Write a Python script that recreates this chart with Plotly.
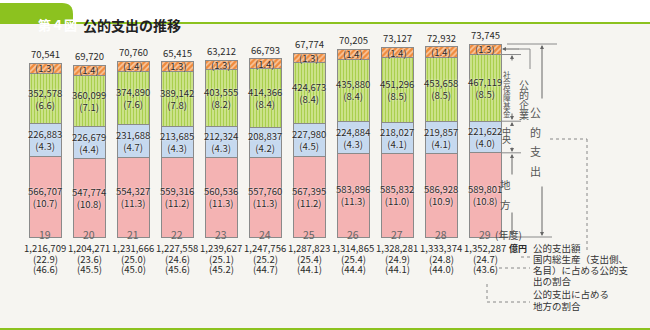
import plotly.graph_objects as go

# 年度
years = ["19", "20", "21", "22", "23", "24", "25", "26", "27", "28", "29"]

# 地方（億円）と公的支出に対する構成比（％）
local = [566707, 547774, 554327, 559316, 560536, 557760, 567395, 583896, 585832, 586928, 589801]
local_pct = [10.7, 10.8, 11.3, 11.2, 11.3, 11.3, 11.2, 11.3, 11.0, 10.9, 10.8]
# 中央
central = [226883, 226679, 231688, 213685, 212324, 208837, 227980, 224884, 218027, 219857, 221622]
central_pct = [4.3, 4.4, 4.7, 4.3, 4.3, 4.2, 4.5, 4.3, 4.1, 4.1, 4.0]
# 社会保障基金
ssf = [352578, 360099, 374890, 389142, 403555, 414366, 424673, 435880, 451296, 453658, 467119]
ssf_pct = [6.6, 7.1, 7.6, 7.8, 8.2, 8.4, 8.4, 8.4, 8.5, 8.5, 8.5]
# 公的企業
pe = [70541, 69720, 70760, 65415, 63212, 66793, 67774, 70205, 73127, 72932, 73745]
pe_pct = [1.3, 1.4, 1.4, 1.3, 1.3, 1.4, 1.3, 1.4, 1.4, 1.4, 1.3]
# 公的支出額・国内総生産に占める割合・公的支出に占める地方の割合
total = [1216709, 1204271, 1231666, 1227558, 1239627, 1247756, 1287823, 1314865, 1328281, 1333374, 1352287]
gdp_share = [22.9, 23.6, 25.0, 24.6, 25.1, 25.2, 25.4, 25.4, 24.9, 24.8, 24.7]
local_share = [46.6, 45.5, 45.0, 45.6, 45.2, 44.7, 44.1, 44.4, 44.1, 44.0, 43.6]

W, H = 650, 330
BASE = 237            # baseline of the bars (px from top)
UNIT = 7006.7         # 億円 per pixel
FONT = "Noto Sans CJK JP"
GRAY = "#8a8a8a"
TXT = "#2a2a2a"


def X(px):
    return px / W


def Y(py):
    return 1 - py / H


xs = list(range(len(years)))
bar_w = 32 / 44
line = dict(color=GRAY, width=1)

fig = go.Figure()
fig.add_bar(x=xs, y=local, name="地方", width=bar_w,
            marker=dict(color="#f4b3b3", line=line))
fig.add_bar(x=xs, y=central, name="中央", width=bar_w,
            marker=dict(color="#c6d9ef", line=line))
fig.add_bar(x=xs, y=ssf, name="社会保障基金", width=bar_w,
            marker=dict(color="#cde38a", line=line,
                        pattern=dict(shape="|", bgcolor="#d3e795", fgcolor="#a9cf4d",
                                     size=3, solidity=0.45, fillmode="replace")))
fig.add_bar(x=xs, y=pe, name="公的企業", width=bar_w,
            marker=dict(color="#ef8a3c", line=line,
                        pattern=dict(shape="/", bgcolor="#ef8a3c", fgcolor="#f9c8a0",
                                     size=4, solidity=0.4, fillmode="replace")))

ann = []
halo = "0px 0px 2px white"
LBL = 9.5


def seg_label(x, y, text, size=LBL):
    ann.append(dict(x=x, y=y, xref="x", yref="y", text=text, showarrow=False,
                    font=dict(family=FONT, size=size, color=TXT, shadow=halo)))


def fmt(v):
    return f"{v:,}"


for i in xs:
    b1 = local[i]
    b2 = b1 + central[i]
    b3 = b2 + ssf[i]
    b4 = b3 + pe[i]
    seg_label(i, b1 / 2, f"{fmt(local[i])}<br>({local_pct[i]:.1f})")
    seg_label(i, (b1 + b2) / 2, f"{fmt(central[i])}<br>({central_pct[i]:.1f})")
    seg_label(i, (b2 + b3) / 2, f"{fmt(ssf[i])}<br>({ssf_pct[i]:.1f})")
    seg_label(i, (b3 + b4) / 2, f"({pe_pct[i]:.1f})")
    ann.append(dict(x=i, y=b4, xref="x", yref="y", text=fmt(pe[i]), showarrow=False,
                    yanchor="bottom", yshift=0,
                    font=dict(family=FONT, size=LBL, color=TXT)))
    # bottom rows
    ann.append(dict(x=i, y=Y(244), xref="x", yref="paper", text=years[i], showarrow=False,
                    font=dict(family=FONT, size=10.5, color="#666")))
    ann.append(dict(x=i, y=Y(257), xref="x", yref="paper", text=fmt(total[i]), showarrow=False,
                    font=dict(family=FONT, size=9.5, color=TXT)))
    ann.append(dict(x=i, y=Y(268), xref="x", yref="paper", text=f"({gdp_share[i]:.1f})",
                    showarrow=False, font=dict(family=FONT, size=9.5, color=TXT)))
    ann.append(dict(x=i, y=Y(278), xref="x", yref="paper", text=f"({local_share[i]:.1f})",
                    showarrow=False, font=dict(family=FONT, size=9.5, color=TXT)))

last = len(years) - 1
ann.append(dict(x=X(493), y=Y(244), xref="paper", yref="paper", text="(年度)",
                xanchor="left", showarrow=False, font=dict(family=FONT, size=10, color="#444")))
ann.append(dict(x=X(507), y=Y(257), xref="paper", yref="paper", text="<b>億円</b>",
                xanchor="left", showarrow=False, font=dict(family=FONT, size=9, color=TXT)))

# notes for the bottom rows
notes = [(257, "公的支出額"), (268, "国内総生産（支出側、"), (279, "名目）に占める公的支"),
         (290, "出の割合"), (303, "公的支出に占める"), (315, "地方の割合")]
for py, t in notes:
    ann.append(dict(x=X(531), y=Y(py), xref="paper", yref="paper", text=t, xanchor="left",
                    showarrow=False, font=dict(family=FONT, size=9.5, color="#333")))


# vertical labels of the bracket, one character per annotation
def vtext(px, py, chars, size=11, step=12, color="#555"):
    for k, ch in enumerate(chars):
        ann.append(dict(x=X(px), y=Y(py + k * step), xref="paper", yref="paper", text=ch,
                        showarrow=False, borderpad=0,
                        font=dict(family=FONT, size=size, color=color)))


vtext(530, 76, "公的企業", 10, 10)
vtext(512, 68, "社会保障基金", 7.5, 7.7)
vtext(512, 131, "中央", 9, 8.5)
vtext(512, 185, "地方", 10.5, 19)
vtext(542, 112, "公的支出", 11, 19.5)


def arrow(x0, y0, x1, y1):
    # arrow from (x0,y0) to head at (x1,y1), pixel positions
    ann.append(dict(x=X(x1), y=Y(y1), xref="paper", yref="paper",
                    ax=x0 - x1, ay=y0 - y1, axref="pixel", ayref="pixel", text="",
                    showarrow=True, arrowhead=2, arrowsize=0.8, arrowwidth=1,
                    arrowcolor="#666"))


# header texts
ann.append(dict(x=X(36), y=Y(13), xref="paper", yref="paper", text="<b>第４図</b>",
                showarrow=False, font=dict(family=FONT, size=13, color="white")))
ann.append(dict(x=X(81), y=Y(13), xref="paper", yref="paper", text="<b>公的支出の推移</b>",
                xanchor="left", showarrow=False, font=dict(family=FONT, size=14, color="#222")))

shapes = []


def hline(x0, x1, yv, color=GRAY):
    shapes.append(dict(type="line", xref="paper", yref="y", x0=X(x0), x1=X(x1),
                       y0=yv, y1=yv, line=dict(color=color, width=1)))


def seg(x0, y0, x1, y1, color=GRAY, dash="solid", width=1):
    shapes.append(dict(type="line", xref="paper", yref="paper", x0=X(x0), x1=X(x1),
                       y0=Y(y0), y1=Y(y1), line=dict(color=color, width=width, dash=dash)))


# bracket boundary lines at the last bar's segment edges
lb1 = local[last]
lb2 = lb1 + central[last]
lb3 = lb2 + ssf[last]
lb4 = lb3 + pe[last]
hline(507, 557, lb4)
hline(502, 521, lb3)
hline(502, 521, lb2)
hline(502, 521, lb1)
hline(500, 552, 0)

# 公的企業 pointer
seg(530, 49, 530, 69)
seg(518, 49, 530, 49)
arrow(520, 49, 502, 49)
# 社会保障基金
arrow(512, 62, 512, 55)
arrow(512, 112, 512, 120)
# 中央
arrow(512, 126, 512, 122)
arrow(512, 146, 512, 152)
# 地方
arrow(512, 176, 512, 154)
arrow(512, 211, 512, 236)
# 公的支出
arrow(542, 100, 542, 45)
arrow(542, 185, 542, 236)

# dotted leaders
DOT = "#888"
seg(550, 139, 587, 139, color=DOT, dash="dot")
seg(587, 139, 587, 252, color=DOT, dash="dot")
seg(521, 257, 530, 257, color=DOT, dash="dot")
seg(499, 268, 530, 268, color=DOT, dash="dot")
seg(487, 284, 487, 302, color=DOT, dash="dot")
seg(487, 302, 530, 302, color=DOT, dash="dot")

# header band, tab and rules
GREEN = "#8cc21f"
shapes.insert(0, dict(type="rect", xref="paper", yref="paper", x0=0, x1=1, y0=Y(0), y1=Y(23),
                      fillcolor="white", line=dict(width=0), layer="below"))
tab_path = (f"M {X(0)},{Y(23)} L {X(0)},{Y(3)} L {X(62)},{Y(3)} "
            f"Q {X(73)},{Y(3)} {X(73)},{Y(14)} L {X(73)},{Y(23)} Z")
shapes.append(dict(type="path", xref="paper", yref="paper", path=tab_path,
                   fillcolor=GREEN, line=dict(width=0)))
seg(0, 23, 650, 23, color=GREEN, width=2)
seg(0, 329, 650, 329, color=GREEN, width=2)

fig.update_layout(
    width=W, height=H,
    margin=dict(l=0, r=0, t=0, b=0, autoexpand=False),
    barmode="stack",
    showlegend=False,
    paper_bgcolor="#f6f5f1",
    plot_bgcolor="rgba(0,0,0,0)",
    xaxis=dict(range=[-45 / 44, (W - 45) / 44], visible=False),
    yaxis=dict(range=[-(H - BASE) * UNIT, BASE * UNIT], visible=False),
    annotations=ann,
    shapes=shapes,
    font=dict(family=FONT),
)

fig.write_html("out.html")
